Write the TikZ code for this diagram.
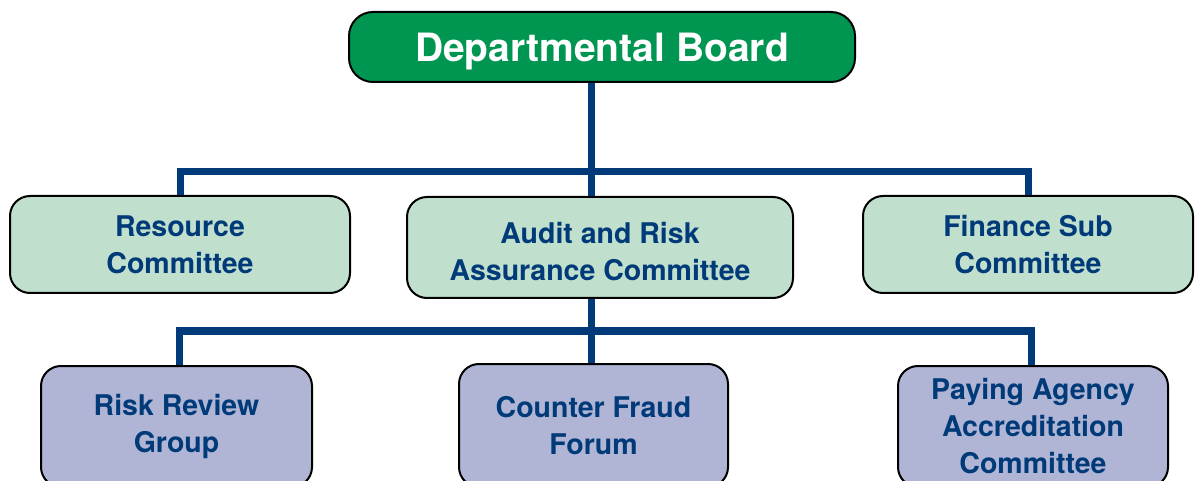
\documentclass[tikz,border=0pt]{standalone}
\usepackage{fontspec}
\setmainfont{TeX Gyre Heros}
\definecolor{boardgreen}{HTML}{009651}
\definecolor{lightgreen}{HTML}{C0DFCC}
\definecolor{lavender}{HTML}{B0B5D5}
\definecolor{navy}{HTML}{003A78}
\begin{document}
\begin{tikzpicture}[x=1pt,y=1pt,
  box/.style={draw=black, line width=2pt, rounded corners=20pt, align=center,
    font=\fontsize{28.5}{37}\selectfont\bfseries, text=navy, inner sep=0pt},
  topbox/.style={draw=black, line width=2pt, rounded corners=24pt, fill=boardgreen,
    text=white, font=\fontsize{39}{45}\selectfont\bfseries, inner sep=0pt, text depth=0pt},
  midbox/.style={box, fill=lightgreen},
  lowbox/.style={box, fill=lavender},
  conn/.style={draw=navy, line width=7pt}]
\useasboundingbox (0,0) rectangle (1195,-481);
\clip (0,0) rectangle (1195,-481);
\coordinate (j1) at (591,-172);
\coordinate (j2) at (591,-331);
\coordinate (lx) at (179,0);
\coordinate (rx) at (1031,0);
\node[topbox, minimum width=506pt, minimum height=70pt] (board) at (602,-47) {Departmental Board};
\node[midbox, minimum width=340pt, minimum height=97pt] (resource) at (180,-244.5) {Resource\\Committee};
\node[midbox, minimum width=386pt, minimum height=101pt] (audit) at (600,-247.5) {\rule{0pt}{29pt}Audit and Risk\\Assurance Committee};
\node[midbox, minimum width=330pt, minimum height=97pt] (finance) at (1028,-244.5) {Finance Sub\\Committee};
\node[lowbox, minimum width=271pt, minimum height=121pt] (risk) at (176.5,-426.5) {Risk Review\\Group};
\node[lowbox, minimum width=269pt, minimum height=123pt] (fraud) at (593.5,-425.5) {Counter Fraud\\Forum};
\node[lowbox, minimum width=270pt, minimum height=121pt] (paying) at (1033,-426.5) {Paying Agency\\Accreditation\\Committee};
\draw[conn] (board.south -| j1) -- (audit.north -| j1);
\draw[conn] (resource.north) -- (resource.north |- j1) -- (finance.north |- j1) -- (finance.north);
\draw[conn] (audit.south -| j2) -- (fraud.north -| j2);
\draw[conn] (risk.north -| lx) -- (j2 -| lx) -- (j2 -| rx) -- (paying.north -| rx);
\end{tikzpicture}
\end{document}
